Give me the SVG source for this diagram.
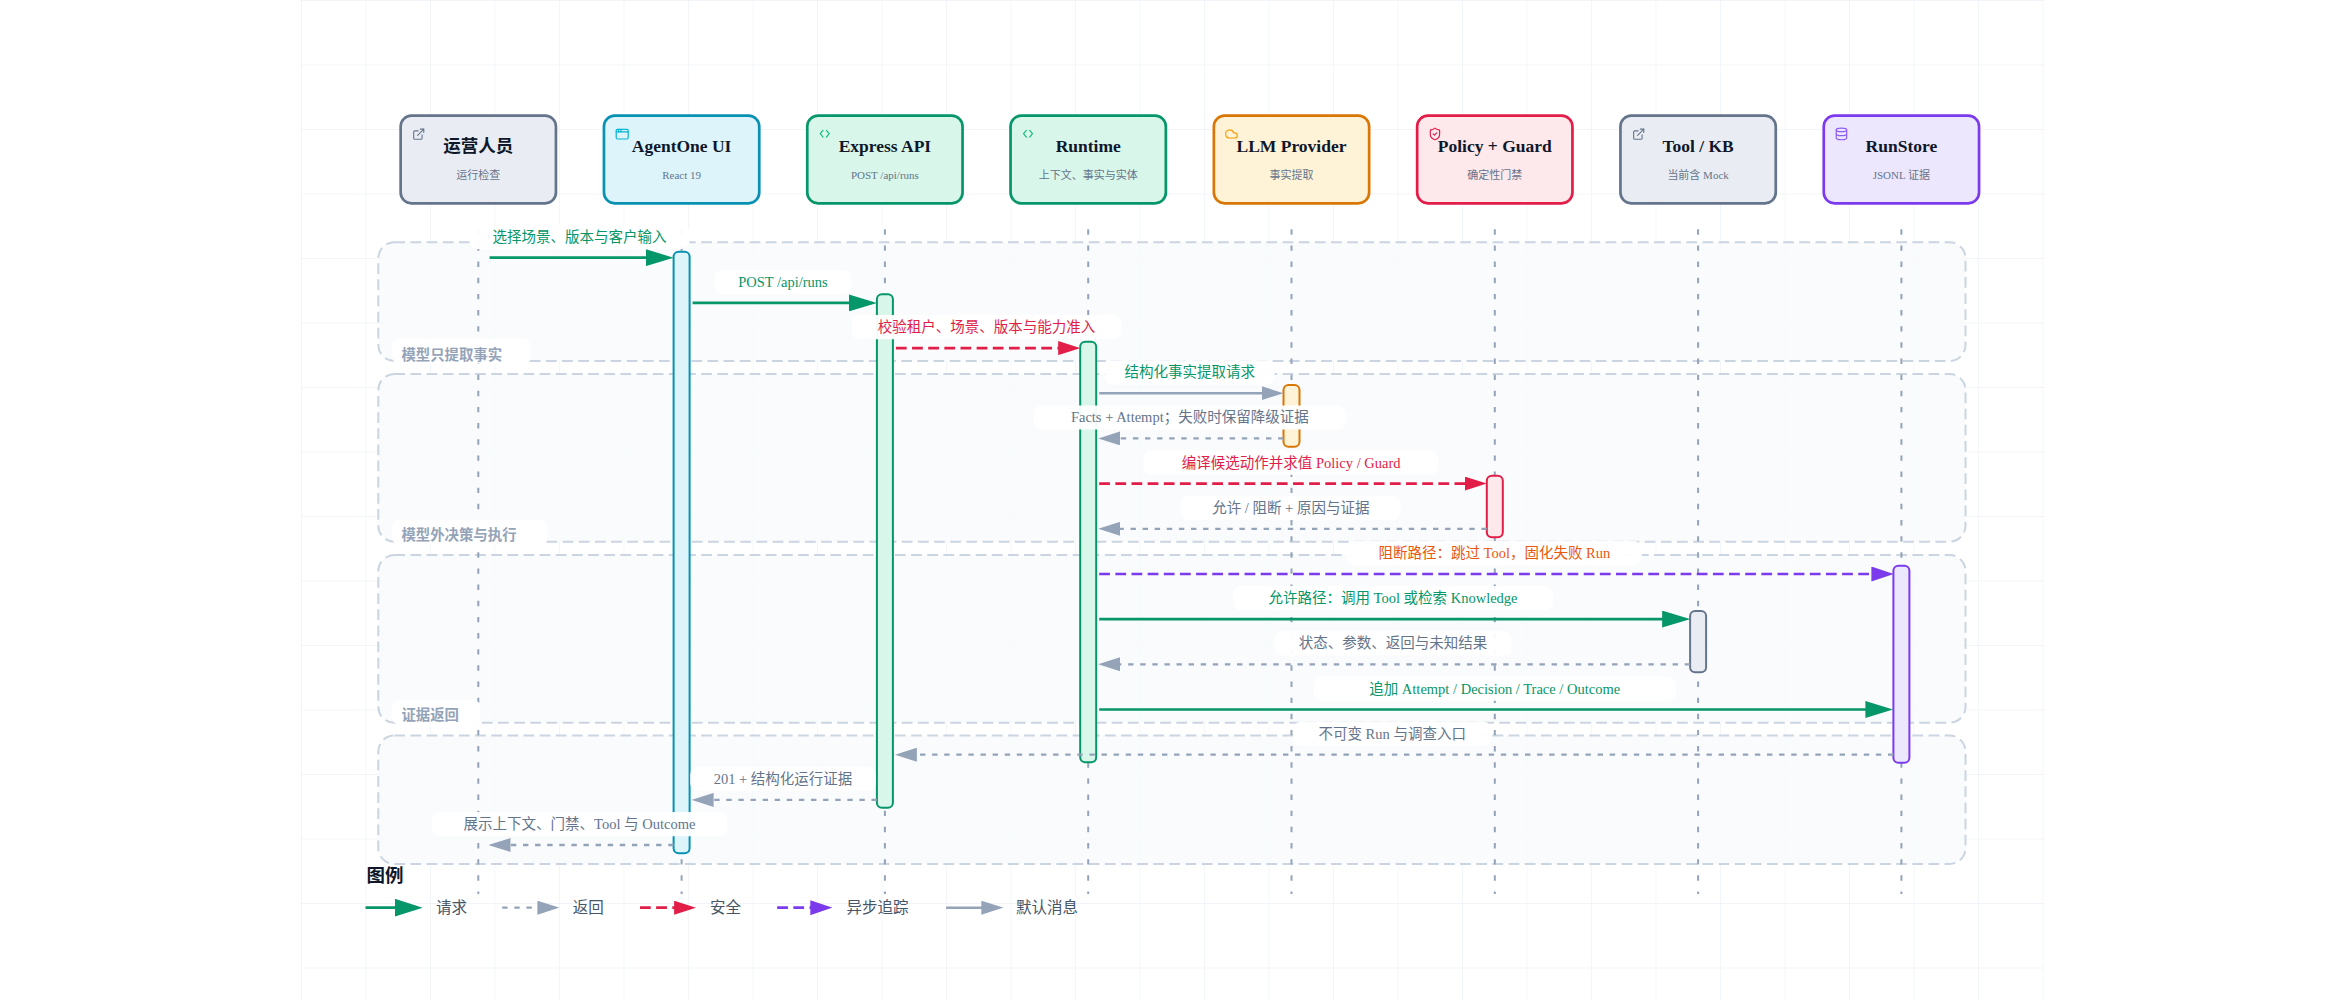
<svg xmlns="http://www.w3.org/2000/svg" width="2344" height="1000" viewBox="0 0 2344 1000">
<style>
.bg{fill:#ffffff}
.node rect.box{stroke-width:2.7}
.title{font-family:"Liberation Serif","Noto Sans CJK SC",serif;font-size:17.5px;font-weight:700;fill:#0f172a;text-anchor:middle}
.sub{font-family:"Liberation Serif","Noto Sans CJK SC",serif;font-size:11px;fill:#64748b;text-anchor:middle}
.icon{fill:none;stroke-width:2;stroke-linecap:round;stroke-linejoin:round}
.group{fill:#f8fafc;fill-opacity:0.85;stroke:#cbd5e1;stroke-width:2;stroke-dasharray:10.75 5.4}
.glabel-bg{fill:#ffffff}
.glabel{font-family:"Noto Sans CJK SC","Noto Sans",sans-serif;font-size:14.4px;font-weight:600;fill:#94a3b8}
.life{stroke:#94a3b8;stroke-width:2;stroke-dasharray:5.4 10.75;fill:none}
.act{stroke-width:2}
.req{stroke:#059669;stroke-width:2.7;fill:none;marker-end:url(#mGreen)}
.ret{stroke:#94a3b8;stroke-width:2.3;stroke-dasharray:5.4 6.7;fill:none;marker-end:url(#mGray)}
.sec{stroke:#e11d48;stroke-width:2.7;stroke-dasharray:10.75 5.4;fill:none;marker-end:url(#mRed)}
.asy{stroke:#7c3aed;stroke-width:2.7;stroke-dasharray:10.75 5.4;fill:none;marker-end:url(#mPurple)}
.def{stroke:#94a3b8;stroke-width:2.5;fill:none;marker-end:url(#mGray)}
.lbg{fill:#ffffff;fill-opacity:0.95}
.lt{font-family:"Liberation Serif","Noto Sans CJK SC",serif;font-size:14.5px;text-anchor:middle}
.cg{fill:#059669}.cr{fill:#e11d48}.cs{fill:#64748b}.co{fill:#ea580c}
.legtitle{font-family:"Noto Sans CJK SC","Noto Sans",sans-serif;font-size:18.5px;font-weight:700;fill:#0f172a}
.legtext{font-family:"Noto Sans CJK SC","Noto Sans",sans-serif;font-size:15.5px;fill:#475569}
</style>
<defs>
<pattern id="grid" x="301" y="0" width="64.5" height="64.5" patternUnits="userSpaceOnUse">
<path d="M64.5 0 L0 0 L0 64.5" fill="none" stroke="#edf1f6" stroke-width="1.3"/>
</pattern>
<marker id="mGreen" markerUnits="userSpaceOnUse" markerWidth="28" markerHeight="17" refX="18" refY="8.5" orient="auto">
<path d="M0,0 L28,8.5 L0,17 Z" fill="#059669"/>
</marker>
<marker id="mGray" markerUnits="userSpaceOnUse" markerWidth="22" markerHeight="14" refX="14" refY="7" orient="auto">
<path d="M0,0 L22,7 L0,14 Z" fill="#94a3b8"/>
</marker>
<marker id="mRed" markerUnits="userSpaceOnUse" markerWidth="22" markerHeight="14" refX="14" refY="7" orient="auto">
<path d="M0,0 L22,7 L0,14 Z" fill="#e11d48"/>
</marker>
<marker id="mPurple" markerUnits="userSpaceOnUse" markerWidth="22" markerHeight="15" refX="14" refY="7.5" orient="auto">
<path d="M0,0 L22,7.5 L0,15 Z" fill="#7c3aed"/>
</marker>
<marker id="mGreenL" markerUnits="userSpaceOnUse" markerWidth="28" markerHeight="18" refX="18" refY="9" orient="auto">
<path d="M0,0 L28,9 L0,18 Z" fill="#059669"/>
</marker>
</defs>

<rect class="bg" x="0" y="0" width="2344" height="1000"/>
<rect x="301" y="0" width="1743" height="1000" fill="url(#grid)"/>

<g id="groups">
<rect class="group" x="378.3" y="242.3" width="1587.2" height="118.7" rx="16"/>
<rect class="group" x="378.3" y="374" width="1587.2" height="167.7" rx="16"/>
<rect class="group" x="378.3" y="555" width="1587.2" height="167.7" rx="16"/>
<rect class="group" x="378.3" y="735.5" width="1587.2" height="128.5" rx="16"/>
</g>

<g id="lifelines">
<line class="life" x1="478.3" y1="229.3" x2="478.3" y2="894"/>
<line class="life" x1="681.6" y1="229.3" x2="681.6" y2="894"/>
<line class="life" x1="884.9" y1="229.3" x2="884.9" y2="894"/>
<line class="life" x1="1088.2" y1="229.3" x2="1088.2" y2="894"/>
<line class="life" x1="1291.5" y1="229.3" x2="1291.5" y2="894"/>
<line class="life" x1="1494.8" y1="229.3" x2="1494.8" y2="894"/>
<line class="life" x1="1698.1" y1="229.3" x2="1698.1" y2="894"/>
<line class="life" x1="1901.4" y1="229.3" x2="1901.4" y2="894"/>
</g>

<g id="node-operator" class="node">
<rect class="box" x="400.65" y="115.7" width="155.3" height="87.6" rx="10.75" fill="#e9edf3" stroke="#64748b"/>
<g transform="translate(412,127.5) scale(0.56)" class="icon" stroke="#64748b">
<path d="M15 3h6v6"/><path d="M10 14 21 3"/><path d="M18 13v6a2 2 0 0 1-2 2H5a2 2 0 0 1-2-2V8a2 2 0 0 1 2-2h6"/>
</g>
<text class="title" x="478.3" y="152">运营人员</text>
<text class="sub" x="478.3" y="179">运行检查</text>
</g>

<g id="node-agentone-ui" class="node">
<rect class="box" x="603.95" y="115.7" width="155.3" height="87.6" rx="10.75" fill="#ddf5fa" stroke="#0891b2"/>
<g transform="translate(615,127) scale(0.6)" class="icon" stroke="#06b6d4">
<rect x="2" y="4" width="20" height="16" rx="2"/><path d="M10 4v4"/><path d="M2 8h20"/><path d="M6 4v4"/>
</g>
<text class="title" x="681.6" y="152">AgentOne UI</text>
<text class="sub" x="681.6" y="179">React 19</text>
</g>

<g id="node-express-api" class="node">
<rect class="box" x="807.25" y="115.7" width="155.3" height="87.6" rx="10.75" fill="#d9f6ea" stroke="#059669"/>
<g transform="translate(818,127) scale(0.56)" class="icon" stroke="#10b981">
<path d="M9 6 4 12l5 6"/><path d="M15 6l5 6-5 6"/>
</g>
<text class="title" x="884.9" y="152">Express API</text>
<text class="sub" x="884.9" y="179">POST /api/runs</text>
</g>

<g id="node-runtime" class="node">
<rect class="box" x="1010.55" y="115.7" width="155.3" height="87.6" rx="10.75" fill="#d9f6ea" stroke="#059669"/>
<g transform="translate(1021.3,127) scale(0.56)" class="icon" stroke="#10b981">
<path d="M9 6 4 12l5 6"/><path d="M15 6l5 6-5 6"/>
</g>
<text class="title" x="1088.2" y="152">Runtime</text>
<text class="sub" x="1088.2" y="179">上下文、事实与实体</text>
</g>

<g id="node-llm-provider" class="node">
<rect class="box" x="1213.85" y="115.7" width="155.3" height="87.6" rx="10.75" fill="#fef3d6" stroke="#d97706"/>
<g transform="translate(1224.5,127) scale(0.58)" class="icon" stroke="#f59e0b">
<path d="M17.5 19H9a7 7 0 1 1 6.71-9h1.79a4.5 4.5 0 1 1 0 9Z"/>
</g>
<text class="title" x="1291.5" y="152">LLM Provider</text>
<text class="sub" x="1291.5" y="179">事实提取</text>
</g>

<g id="node-policy-guard" class="node">
<rect class="box" x="1417.15" y="115.7" width="155.3" height="87.6" rx="10.75" fill="#fde8ec" stroke="#e11d48"/>
<g transform="translate(1428,127) scale(0.58)" class="icon" stroke="#e11d48">
<path d="M20 13c0 5-3.5 7.5-7.66 8.95a1 1 0 0 1-.67-.01C7.5 20.5 4 18 4 13V6a1 1 0 0 1 1-1c2 0 4.5-1.2 6.24-2.72a1.17 1.17 0 0 1 1.52 0C14.51 3.81 17 5 19 5a1 1 0 0 1 1 1z"/><path d="m9 12 2 2 4-4"/>
</g>
<text class="title" x="1494.8" y="152">Policy + Guard</text>
<text class="sub" x="1494.8" y="179">确定性门禁</text>
</g>

<g id="node-tool-kb" class="node">
<rect class="box" x="1620.45" y="115.7" width="155.3" height="87.6" rx="10.75" fill="#e9edf3" stroke="#64748b"/>
<g transform="translate(1632,127.5) scale(0.56)" class="icon" stroke="#64748b">
<path d="M15 3h6v6"/><path d="M10 14 21 3"/><path d="M18 13v6a2 2 0 0 1-2 2H5a2 2 0 0 1-2-2V8a2 2 0 0 1 2-2h6"/>
</g>
<text class="title" x="1698.1" y="152">Tool / KB</text>
<text class="sub" x="1698.1" y="179">当前含 Mock</text>
</g>

<g id="node-runstore" class="node">
<rect class="box" x="1823.75" y="115.7" width="155.3" height="87.6" rx="10.75" fill="#ece7fd" stroke="#7c3aed"/>
<g transform="translate(1834.5,127) scale(0.58)" class="icon" stroke="#8b5cf6">
<ellipse cx="12" cy="5" rx="9" ry="3"/><path d="M3 5V19A9 3 0 0 0 21 19V5"/><path d="M3 12A9 3 0 0 0 21 12"/>
</g>
<text class="title" x="1901.4" y="152">RunStore</text>
<text class="sub" x="1901.4" y="179">JSONL 证据</text>
</g>

<g id="activations">
<rect class="act" x="673.6" y="251.7" width="16" height="601.6" rx="5" fill="#ddf5fa" stroke="#0891b2"/>
<rect class="act" x="876.9" y="294.3" width="16" height="513.4" rx="5" fill="#d9f6ea" stroke="#059669"/>
<rect class="act" x="1080.2" y="341.7" width="16" height="420.6" rx="5" fill="#d9f6ea" stroke="#059669"/>
<rect class="act" x="1283.5" y="385" width="16" height="61.7" rx="5" fill="#fef3d6" stroke="#d97706"/>
<rect class="act" x="1486.8" y="475.7" width="16" height="61.6" rx="5" fill="#fde8ec" stroke="#e11d48"/>
<rect class="act" x="1690.1" y="611" width="16" height="61.3" rx="5" fill="#e9edf3" stroke="#64748b"/>
<rect class="act" x="1893.4" y="565.7" width="16" height="197" rx="5" fill="#ece7fd" stroke="#7c3aed"/>
</g>

<g id="connectors">
<line class="req" x1="489.6" y1="257.7" x2="663.6" y2="257.7"/>
<line class="req" x1="692.6" y1="302.9" x2="866.9" y2="302.9"/>
<line class="sec" x1="895.9" y1="348.1" x2="1072.2" y2="348.1"/>
<line class="def" x1="1099.2" y1="393.2" x2="1275.5" y2="393.2"/>
<line class="ret" x1="1283.5" y1="438.4" x2="1106.2" y2="438.4"/>
<line class="sec" x1="1099.2" y1="483.6" x2="1478.8" y2="483.6"/>
<line class="ret" x1="1486.8" y1="528.8" x2="1106.2" y2="528.8"/>
<line class="asy" x1="1099.2" y1="574" x2="1885.4" y2="574"/>
<line class="req" x1="1099.2" y1="619.1" x2="1680.1" y2="619.1"/>
<line class="ret" x1="1690.1" y1="664.3" x2="1106.2" y2="664.3"/>
<line class="req" x1="1099.2" y1="709.5" x2="1883.4" y2="709.5"/>
<line class="ret" x1="1893.4" y1="754.7" x2="902.9" y2="754.7"/>
<line class="ret" x1="876.9" y1="799.9" x2="699.6" y2="799.9"/>
<line class="ret" x1="673.6" y1="845" x2="496.5" y2="845"/>
</g>

<g id="group-labels">
<rect class="glabel-bg" x="392" y="339" width="138.7" height="24.5" rx="7"/>
<text class="glabel" x="401.4" y="359.5">模型只提取事实</text>
<rect class="glabel-bg" x="392" y="520" width="155.5" height="24.5" rx="7"/>
<text class="glabel" x="401.4" y="539.5">模型外决策与执行</text>
<rect class="glabel-bg" x="392" y="700.3" width="88.5" height="24" rx="7"/>
<text class="glabel" x="401.4" y="720.2">证据返回</text>
</g>

<g id="message-labels">
<rect class="lbg" x="469.5" y="224.7" width="220.1" height="24.2" rx="8"/>
<text class="lt cg" x="579.5" y="241.7">选择场景、版本与客户输入</text>
<rect class="lbg" x="714.6" y="269.9" width="136.8" height="24.2" rx="8"/>
<text class="lt cg" x="783" y="286.9">POST /api/runs</text>
<rect class="lbg" x="851.4" y="315.1" width="270.1" height="24.2" rx="8"/>
<text class="lt cr" x="986.5" y="332.1">校验租户、场景、版本与能力准入</text>
<rect class="lbg" x="1105" y="360.2" width="169.6" height="24.2" rx="8"/>
<text class="lt cg" x="1189.8" y="377.2">结构化事实提取请求</text>
<rect class="lbg" x="1033.6" y="405.4" width="312.4" height="24.2" rx="8"/>
<text class="lt cs" x="1189.8" y="422.4">Facts + Attempt；失败时保留降级证据</text>
<rect class="lbg" x="1143.8" y="450.6" width="294.7" height="24.2" rx="8"/>
<text class="lt cr" x="1291.2" y="467.6">编译候选动作并求值 Policy / Guard</text>
<rect class="lbg" x="1181" y="495.8" width="219.5" height="24.2" rx="8"/>
<text class="lt cs" x="1290.8" y="512.8">允许 / 阻断 + 原因与证据</text>
<rect class="lbg" x="1347" y="541" width="294.8" height="24.2" rx="8"/>
<text class="lt co" x="1494.4" y="558">阻断路径：跳过 Tool，固化失败 Run</text>
<rect class="lbg" x="1232.9" y="586.1" width="320.1" height="24.2" rx="8"/>
<text class="lt cg" x="1393" y="603.1">允许路径：调用 Tool 或检索 Knowledge</text>
<rect class="lbg" x="1274.3" y="631.3" width="237.1" height="24.2" rx="8"/>
<text class="lt cs" x="1392.9" y="648.3">状态、参数、返回与未知结果</text>
<rect class="lbg" x="1313.6" y="676.5" width="362.2" height="24.2" rx="8"/>
<text class="lt cg" x="1494.7" y="693.5">追加 Attempt / Decision / Trace / Outcome</text>
<rect class="lbg" x="1292.9" y="721.7" width="198.6" height="24.2" rx="8"/>
<text class="lt cs" x="1392.2" y="738.7">不可变 Run 与调查入口</text>
<rect class="lbg" x="690.2" y="766.9" width="185.6" height="24.2" rx="8"/>
<text class="lt cs" x="783" y="783.9">201 + 结构化运行证据</text>
<rect class="lbg" x="431.8" y="812" width="295.5" height="24.2" rx="8"/>
<text class="lt cs" x="579.5" y="829">展示上下文、门禁、Tool 与 Outcome</text>
</g>

<g id="legend">
<text class="legtitle" x="366.5" y="881.5">图例</text>
<line x1="365.5" y1="907.7" x2="412.7" y2="907.7" stroke="#059669" stroke-width="2.7" marker-end="url(#mGreenL)"/>
<text class="legtext" x="436" y="913.3">请求</text>
<line class="ret" x1="502.2" y1="907.7" x2="551.4" y2="907.7"/>
<text class="legtext" x="572.7" y="913.3">返回</text>
<line class="sec" x1="640" y1="907.7" x2="688.1" y2="907.7"/>
<text class="legtext" x="709.9" y="913.3">安全</text>
<line class="asy" x1="777.2" y1="907.7" x2="824.3" y2="907.7"/>
<text class="legtext" x="846.6" y="913.3">异步追踪</text>
<line class="def" x1="946.1" y1="907.7" x2="995.3" y2="907.7"/>
<text class="legtext" x="1016" y="913.3">默认消息</text>
</g>
</svg>
